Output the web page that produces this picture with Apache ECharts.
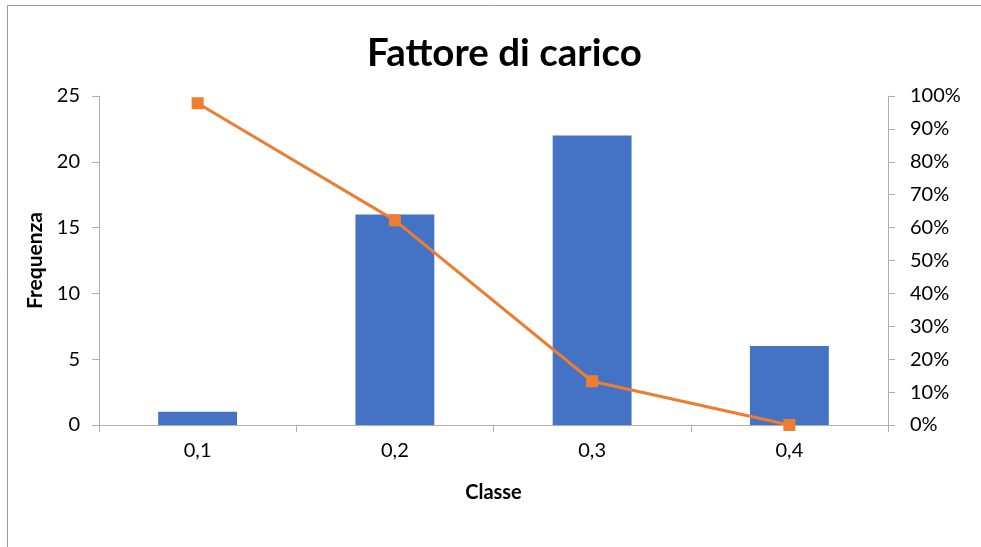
<!DOCTYPE html>
<html>
<head>
<meta charset="utf-8">
<script src="https://cdn.jsdelivr.net/npm/echarts@6/dist/echarts.min.js"></script>
<style>
  html, body { margin: 0; padding: 0; background: #fff; }
  #chart { width: 981px; height: 547px; }
</style>
</head>
<body>
<div id="chart"></div>
<script>
// Frequency per class (bars) and remaining share in percent (line)
const categories = ['0,1', '0,2', '0,3', '0,4'];
const frequenza = [1, 16, 22, 6];
const percentuale = [97.8, 62.2, 13.3, 0];

const FONT = 'Lato, "Open Sans", sans-serif';
const chart = echarts.init(document.getElementById('chart'), null, { renderer: 'canvas' });

chart.setOption({
  animation: false,
  backgroundColor: '#ffffff',
  title: {
    text: 'Fattore di carico',
    left: 362,
    top: 29,
    textStyle: { fontFamily: FONT, fontSize: 38.5, fontWeight: 'bold', color: '#000' }
  },
  graphic: [{
    type: 'rect',
    shape: { x: 7.5, y: 5.5, width: 1000, height: 600 },
    style: { fill: 'none', stroke: '#9a9a9a', lineWidth: 1 },
    silent: true
  }],
  grid: { left: 99, right: 93, top: 96, bottom: 122 },
  xAxis: {
    type: 'category',
    data: categories,
    name: 'Classe',
    nameLocation: 'middle',
    nameGap: 58,
    nameTextStyle: { fontFamily: FONT, fontSize: 20, fontWeight: 'bold', color: '#000' },
    axisLine: { lineStyle: { color: '#b0b0b0', width: 1 } },
    axisTick: { show: true, alignWithLabel: false, length: 7, lineStyle: { color: '#b0b0b0' } },
    axisLabel: { fontFamily: FONT, fontSize: 20, color: '#000', margin: 16 }
  },
  yAxis: [{
    type: 'value',
    min: 0, max: 25, interval: 5,
    name: 'Frequenza',
    nameLocation: 'middle',
    nameRotate: 90,
    nameGap: 52,
    nameTextStyle: { fontFamily: FONT, fontSize: 21, fontWeight: 'bold', color: '#000' },
    axisLine: { show: true, lineStyle: { color: '#b0b0b0', width: 1 } },
    axisTick: { show: true, length: 7, lineStyle: { color: '#b0b0b0' } },
    axisLabel: { fontFamily: FONT, fontSize: 20, color: '#000', margin: 19 },
    splitLine: { show: false }
  }, {
    type: 'value',
    min: 0, max: 100, interval: 10,
    position: 'right',
    axisLine: { show: true, lineStyle: { color: '#b0b0b0', width: 1 } },
    axisTick: { show: true, length: 7, lineStyle: { color: '#b0b0b0' } },
    axisLabel: { fontFamily: FONT, fontSize: 20, color: '#000', margin: 22, formatter: '{value}%' },
    splitLine: { show: false }
  }],
  series: [{
    type: 'bar',
    data: frequenza,
    barWidth: '40%',
    itemStyle: { color: '#4472C4' },
    z: 2
  }, {
    type: 'line',
    yAxisIndex: 1,
    data: percentuale,
    symbol: 'rect',
    symbolSize: 12,
    lineStyle: { color: '#ED7D31', width: 3 },
    itemStyle: { color: '#ED7D31' },
    z: 3
  }]
});
</script>
</body>
</html>
